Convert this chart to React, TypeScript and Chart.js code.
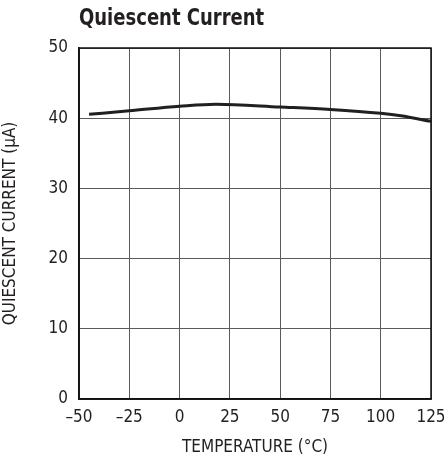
import React, { useEffect, useRef } from "react";
import { Chart, registerables } from "chart.js";

Chart.register(...registerables);

const temperatures = [-45, -25, 0, 18, 50, 75, 100, 110, 125];
const currents = [40.55, 41.05, 41.7, 42.0, 41.6, 41.25, 40.7, 40.35, 39.55];
const xTicks = [-50, -25, 0, 25, 50, 75, 100, 125];
const yTicks = [0, 10, 20, 30, 40, 50];
const titleText = "Quiescent Current";
const xTitle = "TEMPERATURE (°C)";
const yTitle = "QUIESCENT CURRENT (µA)";

const FONT = "'Liberation Sans Narrow', 'DejaVu Sans Condensed', 'Liberation Sans', sans-serif";

export default function App() {
  const ref = useRef<HTMLCanvasElement | null>(null);
  useEffect(() => {
    document.body.style.margin = "0";
    const canvas = ref.current;
    if (!canvas) return;
    const titlePlugin = {
      id: "customTitle",
      afterDraw(chart: any) {
        const ctx = chart.ctx;
        const a = chart.chartArea;
        ctx.save();
        ctx.strokeStyle = "#111";
        ctx.lineWidth = 1.5;
        ctx.strokeRect(a.left, a.top, a.right - a.left, a.bottom - a.top);
        ctx.fillStyle = "#231f20";
        ctx.font = `bold 23px ${FONT}`;
        ctx.textAlign = "left";
        ctx.textBaseline = "middle";
        ctx.translate(a.left, 19);
        ctx.scale(0.87, 1);
        ctx.fillText(titleText, 0, 0);
        ctx.restore();
      },
    };
    const chart = new Chart(canvas, {
      type: "line",
      data: {
        datasets: [
          {
            data: temperatures.map((t, i) => ({ x: t, y: currents[i] })),
            borderColor: "#231f20",
            borderWidth: 3,
            pointRadius: 0,
            cubicInterpolationMode: "monotone",
            fill: false,
          },
        ],
      },
      options: {
        animation: false,
        responsive: false,
        layout: { padding: { top: 48, right: 13, left: 0, bottom: 0 } },
        plugins: { legend: { display: false }, tooltip: { enabled: false }, title: { display: false } },
        scales: {
          x: {
            type: "linear",
            min: -50,
            max: 125,
            afterBuildTicks: (s: any) => {
              s.ticks = xTicks.map((v) => ({ value: v }));
            },
            afterFit: (s: any) => {
              s.height = 59;
              s.paddingLeft = 0;
              s.paddingRight = 0;
            },
            grid: { color: "#5a5a5a", lineWidth: 1, drawTicks: false },
            border: { color: "#111", width: 1.5 },
            ticks: {
              color: "#231f20",
              font: { family: FONT, size: 17 },
              padding: 8,
              maxRotation: 0,
              autoSkip: false,
              callback: (v: any) => (Number(v) < 0 ? "–" + Math.abs(Number(v)) : String(v)),
            },
            title: {
              display: true,
              text: xTitle,
              color: "#231f20",
              font: { family: FONT, size: 17 },
              padding: { top: 1, bottom: 0 },
            },
          },
          y: {
            type: "linear",
            min: 0,
            max: 50,
            afterBuildTicks: (s: any) => {
              s.ticks = yTicks.map((v) => ({ value: v }));
            },
            afterFit: (s: any) => {
              s.width = 79;
              s.paddingTop = 0;
              s.paddingBottom = 0;
            },
            grid: { color: "#5a5a5a", lineWidth: 1, drawTicks: false },
            border: { color: "#111", width: 1.5 },
            ticks: {
              color: "#231f20",
              font: { family: FONT, size: 17 },
              padding: 11,
              autoSkip: false,
            },
            title: {
              display: true,
              text: yTitle,
              color: "#231f20",
              font: { family: FONT, size: 17 },
              padding: { top: 0, bottom: 0 },
            },
          },
        },
      },
      plugins: [titlePlugin],
    } as any);
    return () => chart.destroy();
  }, []);
  return <canvas ref={ref} width={444} height={458} style={{ display: "block" }} />;
}
